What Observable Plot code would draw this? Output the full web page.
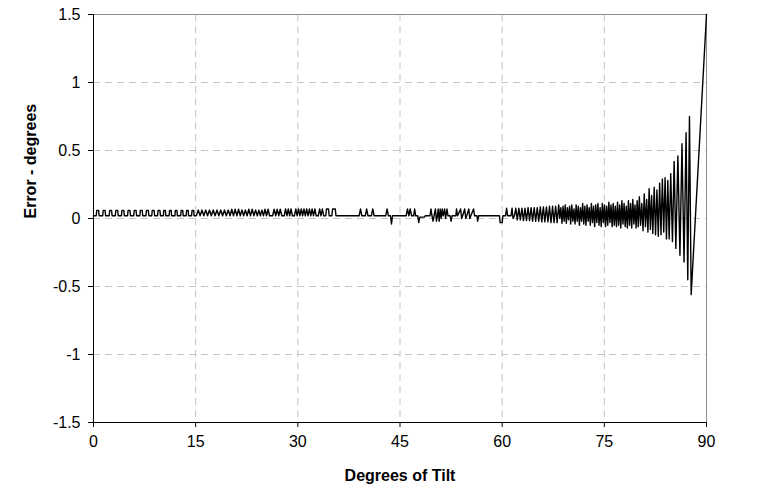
<!DOCTYPE html>
<html><head><meta charset="utf-8">
<script src="https://cdn.jsdelivr.net/npm/d3@7"></script>
<script src="https://cdn.jsdelivr.net/npm/@observablehq/plot@0.6"></script>
<style>body{margin:0;background:#fff;}</style>
</head><body><div id="chart"></div>
<script>
const xTicks = [0, 15, 30, 45, 60, 75, 90];
const yTicks = [-1.5, -1, -0.5, 0, 0.5, 1, 1.5];
const xTitle = "Degrees of Tilt";
const yTitle = "Error - degrees";

// [degrees of tilt, error in degrees]
const lowTilt = [
  [0,0.02],
  [0.4,.02],[0.48,.06],[0.75,.06],[0.83,.02],
  [1.35,.02],[1.43,.06],[1.7,.06],[1.78,.02],
  [2.3,.02],[2.38,.06],[2.65,.06],[2.73,.02],
  [3.2,.02],[3.28,.06],[3.55,.06],[3.63,.02],
  [4.1,.02],[4.18,.06],[4.45,.06],[4.53,.02],
  [5.0,.02],[5.08,.06],[5.35,.06],[5.43,.02],
  [5.9,.02],[5.98,.06],[6.25,.06],[6.33,.02],
  [6.8,.02],[6.88,.06],[7.15,.06],[7.23,.02],
  [7.7,.02],[7.78,.06],[8.05,.06],[8.13,.02],
  [8.55,.02],[8.63,.06],[8.9,.06],[8.98,.02],
  [9.4,.02],[9.48,.06],[9.75,.06],[9.83,.02],
  [10.25,.02],[10.32,.06],[10.55,.06],[10.62,.02],
  [11.1,.02],[11.17,.06],[11.4,.06],[11.47,.02],
  [11.95,.02],[12.02,.06],[12.25,.06],[12.32,.02],
  [12.8,.02],[12.87,.06],[13.1,.06],[13.17,.02],
  [13.6,.02],[13.67,.06],[13.9,.06],[13.97,.02],
  [14.4,.02],[14.47,.06],[14.7,.06],[14.77,.02]
];
const earlyTilt = [
  [15.1,0.02],[15.38,0.062],[15.65,0.02],[15.93,0.062],[16.2,0.02],[16.48,0.062],[16.75,0.02],
  [17.03,0.062],[17.3,0.02],[17.58,0.062],[17.85,0.02],[18.13,0.062],[18.4,0.02],[18.68,0.062],
  [18.95,0.02],[19.23,0.062],[19.5,0.02],[19.78,0.062],[20.05,0.02],[20.3,0.068],[20.55,0.02],
  [20.8,0.068],[21.05,0.02],[21.3,0.068],[21.55,0.02],[21.8,0.062],[22.05,0.02],[22.3,0.062],
  [22.55,0.02],[22.8,0.068],[23.05,0.02],[23.3,0.068],[23.55,0.02],[23.8,0.062],[24.05,0.02],
  [24.28,0.062],[24.5,0.02],[24.73,0.062],[24.95,0.02],[25.18,0.068],[25.4,0.02],[25.63,0.068],
  [25.85,0.02],[26.3,0.02],[26.52,0.068],[26.75,0.02],[26.97,0.068],[27.2,0.02],[27.42,0.068],
  [27.65,0.02]
];
const midTilt = [
  [28.0,0.02],[28.2,0.07],[28.4,0.02],[28.6,0.07],[28.8,0.02],[29.0,0.07],[29.2,0.02],
  [29.5,0.02],[29.7,0.07],[29.9,0.02],[30.1,0.07],[30.3,0.02],[30.5,0.07],[30.7,0.02],
  [30.9,0.07],[31.1,0.02],[31.3,0.07],[31.5,0.02],[31.7,0.07],[31.9,0.02],[32.1,0.07],
  [32.3,0.02],[32.5,0.07],[32.7,0.02],[33.0,0.02],[33.2,0.07],[33.4,0.02],[33.6,0.07],
  [33.8,0.02],[34.1,0.02],[34.2,0.07],[34.5,0.07],[34.6,0.02],[35.0,0.02],[35.1,0.07],
  [35.5,0.07],[35.6,0.02],
  [39.0,0.02],[39.2,0.07],[39.4,0.02],[39.9,0.02],[40.1,0.07],[40.3,0.02],[40.8,0.02],
  [41.0,0.07],[41.2,0.02],
  [42.9,0.02],[43.1,0.07],[43.3,0.02],[43.6,0.02],[43.75,-0.04],[43.9,0.02],
  [45.9,0.02],[46.1,0.07],[46.3,0.02],[46.5,0.07],[46.7,0.02],[47.0,0.02],[47.15,0.07],
  [47.3,0.02],[47.6,0.02],[47.75,-0.03],[47.9,0.01],[48.6,0.01],[48.7,0.02],
  [49.4,0.02],[49.55,0.07],[49.7,0.02],[49.85,-0.02],[50.0,0.02],[50.2,0.07],[50.35,-0.02],
  [50.5,0.02],[50.6,0.07],[50.75,-0.02],[50.9,0.07],[51.05,0.0],[51.2,0.07],[51.35,0.02],
  [51.55,0.07],[51.7,0.0],[51.9,0.07],[52.05,0.02],[52.35,0.02],[52.5,-0.02],[52.65,0.02],
  [53.2,0.02],[53.3,0.07],[53.45,0.02],
  [53.9,0.07],[54.05,0.0],[54.2,0.02],[54.5,0.07],[54.65,0.0],[54.8,0.02],[55.1,0.07],
  [55.25,0.0],[55.4,0.02],[55.8,0.07],[55.95,0.02],[56.3,0.02],[56.4,-0.02],[56.55,0.02],
  [59.6,0.02],[59.7,-0.03],[60.0,-0.03],[60.1,0.02],[60.5,0.02],[60.65,0.075],[60.8,0.02],
  [61.3,0.02],[61.45,0.075],[61.6,0.0],[61.8,0.02]
];
const highTilt = [
  [62.0,0.075],[62.22,-0.01],[62.45,0.075],[62.67,-0.01],[62.9,0.075],[63.12,-0.015],[63.35,0.075],
  [63.57,-0.015],[63.8,0.08],[64.02,-0.015],[64.25,0.08],[64.47,-0.02],[64.7,0.08],
  [64.92,-0.02],[65.15,0.08],[65.37,-0.02],[65.6,0.085],[65.82,-0.025],[66.05,0.085],
  [66.27,-0.025],[66.5,0.085],[66.72,-0.025],[66.95,0.09],[67.17,-0.03],[67.4,0.09],
  [67.62,-0.03],[67.85,0.09],[68.07,-0.03],
  [68.3,0.1],[68.46,0.0],[68.62,0.08],[68.78,-0.035],[68.94,0.09],[69.1,-0.02],[69.26,0.1],
  [69.42,-0.035],[69.58,0.08],[69.74,-0.01],[69.9,0.09],[70.06,-0.04],[70.22,0.1],[70.38,-0.02],
  [70.54,0.07],[70.7,-0.04],[70.86,0.1],[71.02,-0.02],[71.18,0.09],[71.34,-0.05],[71.5,0.08],
  [71.66,-0.02],[71.82,0.11],[71.98,-0.04],[72.14,0.09],[72.3,-0.05],[72.46,0.1],[72.62,-0.02],
  [72.78,0.08],[72.94,-0.05],[73.1,0.11],[73.26,-0.03],[73.42,0.09],[73.58,-0.06],[73.74,0.1],
  [73.9,-0.03],[74.06,0.11],[74.22,-0.05],[74.38,0.08],[74.54,-0.06],[74.7,0.11],[74.86,-0.03],
  [75.02,0.1],[75.18,-0.06],[75.34,0.09],[75.5,-0.05],[75.66,0.12],[75.82,-0.03],[75.98,0.1],
  [76.14,-0.06],[76.3,0.11],[76.46,-0.05],[76.62,0.09],[76.78,-0.06],
  [76.94,0.12],[77.1,-0.05],[77.26,0.1],[77.42,-0.07],[77.58,0.13],[77.74,-0.04],[77.9,0.11],
  [78.06,-0.06],[78.22,0.09],[78.38,-0.07],[78.54,0.13],[78.7,-0.05],[78.86,0.11],[79.02,-0.07],
  [79.18,0.14],[79.34,-0.04],[79.5,0.1],[79.66,-0.07],[79.82,0.13],[79.98,-0.06],[80.14,0.16],
  [80.32,-0.05],[80.5,0.11],[80.68,-0.09],[80.86,0.18],[81.04,-0.06],[81.22,0.14],[81.4,-0.1],
  [81.58,0.22],[81.76,-0.08],[81.94,0.17],[82.12,-0.11],
  [82.32,0.23],[82.52,-0.12],[82.72,0.21],[82.92,-0.13],[83.12,0.26],[83.32,-0.12],[83.52,0.29],
  [83.72,-0.1],[83.92,0.3],[84.12,-0.15],[84.32,0.28],[84.52,-0.15]
];
const steepTilt = [
  [84.75,0.33],[85.0,-0.17],[85.25,0.42],[85.5,-0.22],[85.8,0.46],[86.1,-0.27],[86.4,0.55],
  [86.7,-0.32],[87.0,0.63],[87.25,-0.45],[87.5,0.75],[87.75,-0.56],[90,1.5]
];

const data = [...lowTilt, ...earlyTilt, ...midTilt, ...highTilt, ...steepTilt]
  .map(([tilt, error]) => ({tilt, error}));

const gridStyle = {stroke: "#c4c4c4", strokeOpacity: 1, strokeWidth: 1, strokeDasharray: "7,5"};

const chart = Plot.plot({
  width: 759,
  height: 492,
  marginLeft: 93,
  marginRight: 53,
  marginTop: 14,
  marginBottom: 70,
  style: {fontFamily: "'Liberation Sans', Arial, sans-serif", fontSize: "16px", color: "#000", background: "#fff"},
  x: {domain: [0, 90]},
  y: {domain: [-1.5, 1.5]},
  marks: [
    Plot.gridX(xTicks.filter(d => d > 0 && d < 90), gridStyle),
    Plot.gridY(yTicks.filter(d => d > -1.5 && d < 1.5), gridStyle),
    Plot.ruleY([1.5], {stroke: "#8c8c8c"}),
    Plot.ruleX([90], {stroke: "#8c8c8c"}),
    Plot.line(data, {x: "tilt", y: "error", stroke: "#000", strokeWidth: 1.4}),
    Plot.ruleY([-1.5], {stroke: "#000"}),
    Plot.ruleX([0], {stroke: "#000"}),
    Plot.axisX({ticks: xTicks, tickFormat: d => String(d), tickSize: 5, tickPadding: 8, label: null, fontSize: 16}),
    Plot.axisY({ticks: yTicks, tickFormat: d => String(d), tickSize: 5, tickPadding: 8, label: null, fontSize: 16}),
    Plot.text([xTitle], {text: d => d, frameAnchor: "bottom", dy: 58, fontWeight: "bold", fontSize: 16}),
    Plot.text([yTitle], {text: d => d, frameAnchor: "left", dx: -63, rotate: -90, fontWeight: "bold", fontSize: 16})
  ]
});
document.getElementById("chart").append(chart);
</script>
</body></html>
